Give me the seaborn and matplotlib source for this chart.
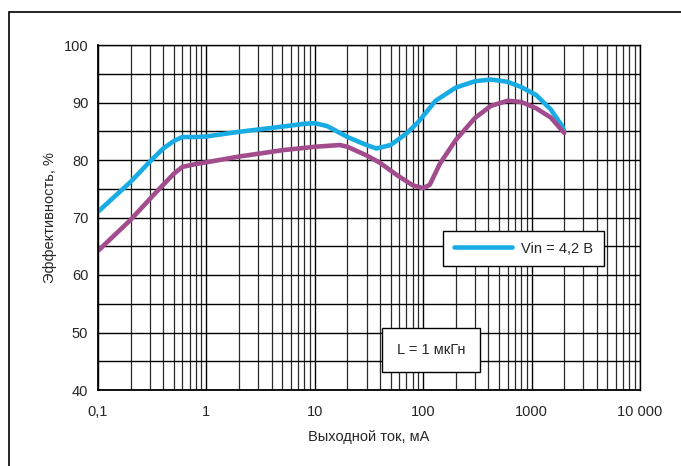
import numpy as np
import pandas as pd
import matplotlib
matplotlib.use("Agg")
import matplotlib.pyplot as plt
import seaborn as sns
from matplotlib.lines import Line2D
from matplotlib.patches import Rectangle
from matplotlib.ticker import FixedLocator, LogLocator, NullFormatter

# Data
blue_x = [0.1, 0.2, 0.3, 0.4, 0.5, 0.6, 0.8, 1.0, 2.0, 5.0, 8.0, 10.0, 13.0, 20.0, 30.0, 37.0,
          50.0, 70.0, 90.0, 130.0, 200.0, 300.0, 420.0, 600.0, 800.0, 1100.0, 1500.0, 1900.0, 2000.0]
blue_y = [71.0, 76.2, 79.7, 82.0, 83.3, 84.0, 84.0, 84.1, 84.9, 85.8, 86.3, 86.4, 85.9, 84.0, 82.6, 82.0,
          82.6, 84.6, 86.6, 90.3, 92.6, 93.7, 94.0, 93.6, 92.7, 91.3, 88.8, 86.0, 85.0]
purple_x = [0.1, 0.2, 0.3, 0.4, 0.5, 0.6, 0.8, 1.0, 2.0, 5.0, 10.0, 17.0, 20.0, 30.0, 40.0, 57.0,
            80.0, 100.0, 115.0, 143.0, 200.0, 300.0, 420.0, 600.0, 800.0, 1100.0, 1500.0, 2000.0]
purple_y = [64.2, 69.6, 73.2, 75.7, 77.6, 78.8, 79.3, 79.6, 80.6, 81.7, 82.3, 82.6, 82.3, 80.8, 79.5, 77.4,
            75.6, 75.1, 75.7, 79.4, 83.5, 87.3, 89.4, 90.3, 90.1, 89.0, 87.4, 84.7]

series_names = ["Vin = 4,2 В", "other"]
colors = ["#19ace4", "#a24b8d"]

x_ticks = [0.1, 1, 10, 100, 1000, 10000]
x_labels = ["0,1", "1", "10", "100", "1000", "10 000"]
y_ticks = [40, 50, 60, 70, 80, 90, 100]

df = pd.DataFrame({
    "I": blue_x + purple_x,
    "eff": blue_y + purple_y,
    "s": [series_names[0]] * len(blue_x) + [series_names[1]] * len(purple_x),
})

sns.set_style("white")
plt.rcParams["font.family"] = ["Liberation Sans", "DejaVu Sans"]

fig = plt.figure(figsize=(6.81, 4.66), dpi=100)
ax = fig.add_axes([98 / 681, 1 - 390 / 466, 542 / 681, 345 / 466])

# outer frame
fig.patches.append(Rectangle((9 / 681, -0.05), 1.1, 1 - 12 / 466 + 0.05,
                             transform=fig.transFigure, fill=False,
                             edgecolor="black", linewidth=1.2, zorder=0))

ax.set_xscale("log")
ax.set_xlim(0.1, 10000)
ax.set_ylim(40, 100)

# grid
ax.xaxis.set_major_locator(FixedLocator(x_ticks))
ax.xaxis.set_minor_locator(LogLocator(base=10, subs=np.arange(2, 10)))
ax.xaxis.set_minor_formatter(NullFormatter())
ax.set_xticks(x_ticks)
ax.set_xticklabels(x_labels)
ax.set_yticks(y_ticks)
ax.yaxis.set_minor_locator(FixedLocator([45, 55, 65, 75, 85, 95]))
ax.grid(which="major", axis="both", color="black", linewidth=1.0)
ax.grid(which="minor", axis="x", color="#2a2a2a", linewidth=0.9)
ax.grid(which="minor", axis="y", color="black", linewidth=1.0)

sns.lineplot(data=df, x="I", y="eff", hue="s", palette=colors,
             linewidth=3.3, ax=ax, legend=False, sort=False, estimator=None)

for sp in ["left", "bottom"]:
    ax.spines[sp].set_color("black")
    ax.spines[sp].set_linewidth(1.3)
for sp in ["top", "right"]:
    ax.spines[sp].set_color("black")
    ax.spines[sp].set_linewidth(1.0)

ax.tick_params(axis="both", which="major", direction="out", length=4, width=1,
               color="black", labelsize=10.5, pad=3)
ax.tick_params(axis="both", which="minor", length=0)
ax.tick_params(axis="x", which="major", pad=7)

ax.set_xlabel("Выходной ток, мА", fontsize=10.5, labelpad=8)
ax.set_ylabel("Эффективность, %", fontsize=10.5, labelpad=5)

handle = Line2D([0], [0], color=colors[0], linewidth=3.3)
leg = ax.legend([handle], [series_names[0]], loc="center",
                bbox_to_anchor=(0.785, 0.410), frameon=True, fancybox=False,
                fontsize=10.5, handlelength=4.0, borderpad=0.75, handletextpad=0.6,
                borderaxespad=0)
leg.get_frame().set_edgecolor("black")
leg.get_frame().set_linewidth(1.0)
leg.get_frame().set_facecolor("white")
leg.get_frame().set_alpha(1)

ax.text(0.615, 0.116, "L = 1 мкГн", transform=ax.transAxes, ha="center", va="center",
        fontsize=10.5,
        bbox=dict(boxstyle="square,pad=1.0", facecolor="white", edgecolor="black", linewidth=1.0))

fig.savefig("out.png", dpi=100)
